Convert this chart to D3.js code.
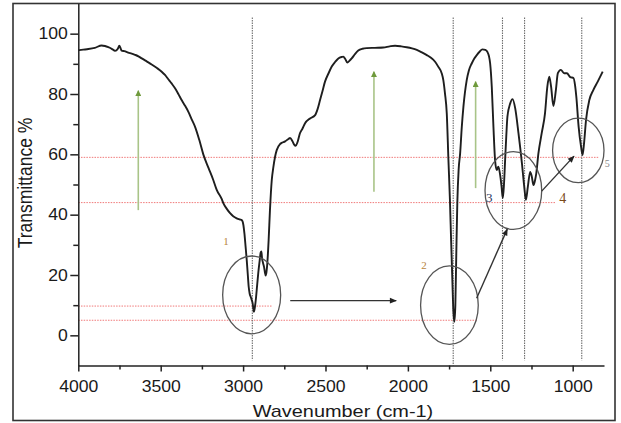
<!doctype html>
<html>
<head>
<meta charset='utf-8'>
<style>
body{margin:0;background:#fff;}
svg{display:block;font-family:'Liberation Sans',Arial,sans-serif;}
</style>
</head>
<body>
<div id='chart'></div>
<script src='https://cdn.jsdelivr.net/npm/d3@7/dist/d3.min.js'></script>
<script>

// spectrum (wavenumber cm-1, transmittance %)
const wavenumber = [4000,3970,3939,3900,3858,3838,3818,3795,3777,3760,3751,3737,3720,3697,3676,3656,3635,3615,3585,3555,3525,3494,3474,3454,3434,3413,3393,3373,3352,3332,3312,3292,3266,3241,3210,3181,3160,3130,3120,3100,3079,3060,3039,3020,3008,2998,2992,2985,2978,2972,2966,2960,2954,2948,2942,2937,2934,2928,2921,2915,2908,2900,2893,2889,2885,2879,2873,2868,2863,2858,2853,2845,2837,2826,2817,2806,2796,2776,2766,2745,2725,2715,2700,2690,2681,2670,2655,2640,2624,2594,2563,2548,2533,2518,2503,2482,2462,2442,2422,2400,2392,2380,2367,2355,2341,2320,2301,2275,2250,2200,2149,2110,2078,2040,2007,1975,1946,1915,1885,1860,1835,1815,1795,1785,1775,1764,1754,1745,1738,1730,1724,1718,1712,1706,1700,1692,1683,1673,1663,1643,1630,1612,1597,1582,1565,1548,1530,1518,1508,1501,1491,1481,1471,1461,1451,1440,1432,1424,1417,1410,1403,1396,1379,1365,1349,1329,1308,1294,1284,1272,1258,1248,1238,1228,1221,1208,1188,1168,1154,1142,1131,1117,1102,1090,1072,1052,1035,1015,995,986,978,964,949,940,931,919,899,875,848,818];
const transmittance = [94.5,94.7,94.9,95.3,96.1,95.9,95.5,94.9,94.3,95.0,96.0,94.4,94.2,93.7,93.4,93.0,92.5,91.8,90.8,89.8,88.7,87.4,86.3,84.9,83.5,81.9,80.0,78.0,76.1,74.1,71.6,69.2,64.8,59.9,55.5,51.5,48.2,45.2,43.8,42.0,40.5,39.5,38.8,38.4,38.2,36.5,33.8,29.5,25.0,20.5,16.1,13.8,12.8,11.8,10.6,8.5,7.8,9.5,12.8,16.5,20.6,24.5,27.5,27.8,25.5,24.0,22.7,21.0,19.8,21.0,23.9,31.6,41.5,51.5,55.5,59.2,61.4,63.4,63.8,64.3,65.1,65.4,64.3,63.2,62.8,64.0,67.0,68.5,70.3,71.9,73.0,75.0,78.0,81.0,84.1,86.8,89.1,90.6,91.8,92.3,92.4,91.6,90.4,91.0,91.8,93.3,94.4,95.0,95.2,95.3,95.4,95.8,96.0,95.8,95.5,95.1,94.6,93.8,92.9,92.0,90.7,89.0,86.9,84.6,80.2,73.5,58.1,45.0,32.0,18.0,8.0,4.5,10.0,28.0,44.0,55.0,60.3,69.0,75.8,84.6,87.8,90.2,91.8,92.9,94.0,94.8,94.6,94.0,92.5,90.2,82.4,69.2,58.1,54.8,55.9,53.1,49.5,45.5,50.0,58.1,66.0,72.5,76.9,78.3,75.3,67.0,57.0,49.3,44.9,49.3,54.2,52.6,49.8,51.5,53.7,60.3,67.0,73.6,82.4,85.7,82.4,76.0,81.3,86.9,88.0,86.9,86.9,85.6,85.3,83.0,79.1,69.2,62.5,59.8,63.7,71.4,78.0,81.3,84.1,87.4];

const xTicks = [4000,3500,3000,2500,2000,1500,1000];
const xMinor = [3750,3250,2750,2250,1750,1250];
const yTicks = [0,20,40,60,80,100];
const yMinor = [10,30,50,70,90];

// red dotted reference levels: [transmittance, wavenumber where the line stops]
const hLevels = [59, 44, 9.7, 5];
const hEnds = [840, 1101, 2827, 1583];

// grey dotted peak markers: [wavenumber, lowest transmittance reached]
const peakWn = [2944, 1725, 1426, 1292, 945];
const peakLow = [-8.3, -10, -8.3, -8.3, -8.3];
const peakTop = 105.4;

// circled regions: centre wn, centre T, half width (wn), half height (T)
const circleWn = [2948, 1748, 1360, 966];
const circleT = [13.4, 10.0, 48.0, 61.3];
const circleRx = [176, 175, 172, 156];
const circleRy = [12.9, 13.0, 12.9, 10.7];

// black arrows between circles: from -> to
const arrowFrom = [[2714, 11.5], [1583, 12.3], [1188, 47.8]];
const arrowTo = [[2071, 11.5], [1397, 35.2], [992, 59.4]];

// green upward arrows
const greenWn = [3636, 2206, 1589];
const greenLow = [41.5, 47.6, 48.8];
const greenHigh = [81.1, 87.4, 84.1];

// numbered labels
const labelText = ['1', '2', '3', '4', '5'];
const labelWn = [3104, 1903, 1506, 1060, 791];
const labelT = [31.3, 23.3, 45.6, 45.5, 56.8];
const labelColor = ['#b8843e', '#b8843e', '#2a3560', '#7a4a1a', '#888'];
const labelSize = [11, 11, 13, 14, 10];

const W = 621, H = 423;

const svg = d3.select('#chart').append('svg')
  .attr('width', W)
  .attr('height', H);

const x = d3.scaleLinear().domain([4000, 810]).range([78.3, 604]);
const y = d3.scaleLinear().domain([-10, 110]).range([365.5, 3.5]);

const defs = svg.append('defs');
defs.append('marker')
  .attr('id', 'headBlack')
  .attr('viewBox', '0 0 10 10')
  .attr('refX', 9).attr('refY', 5)
  .attr('markerWidth', 8).attr('markerHeight', 7)
  .attr('markerUnits', 'userSpaceOnUse')
  .attr('orient', 'auto')
  .append('path').attr('d', 'M0,1L10,5L0,9Z').attr('fill', '#222');
defs.append('marker')
  .attr('id', 'headGreen')
  .attr('viewBox', '0 0 10 10')
  .attr('refX', 9).attr('refY', 5)
  .attr('markerWidth', 7).attr('markerHeight', 6)
  .attr('markerUnits', 'userSpaceOnUse')
  .attr('orient', 'auto')
  .append('path').attr('d', 'M0,0L10,5L0,10Z').attr('fill', '#6f9a3c');

// outer frame
svg.append('rect')
  .attr('x', 13).attr('y', 3.5)
  .attr('width', 602).attr('height', 417)
  .attr('fill', 'none')
  .attr('stroke', '#333')
  .attr('stroke-width', 1.6);

// red dotted levels
svg.append('g').selectAll('line')
  .data(hLevels)
  .join('line')
  .attr('x1', x(4000))
  .attr('x2', (d, i) => x(hEnds[i]))
  .attr('y1', d => y(d))
  .attr('y2', d => y(d))
  .attr('stroke', '#f07a7a')
  .attr('stroke-width', 1)
  .attr('stroke-dasharray', '1.5,1.2');

// grey dotted peak lines
svg.append('g').selectAll('line')
  .data(peakWn)
  .join('line')
  .attr('x1', d => x(d))
  .attr('x2', d => x(d))
  .attr('y1', y(peakTop))
  .attr('y2', (d, i) => y(peakLow[i]))
  .attr('stroke', '#6e6e6e')
  .attr('stroke-width', 1.1)
  .attr('stroke-dasharray', '1.5,1');

// green arrows
svg.append('g').selectAll('line')
  .data(greenWn)
  .join('line')
  .attr('x1', d => x(d))
  .attr('x2', d => x(d))
  .attr('y1', (d, i) => y(greenLow[i]))
  .attr('y2', (d, i) => y(greenHigh[i]))
  .attr('stroke', '#a9c488')
  .attr('stroke-width', 1.6)
  .attr('marker-end', 'url(#headGreen)');

// spectrum
const spectrum = wavenumber.map((w, i) => [w, transmittance[i]]);
const line = d3.line()
  .x(d => x(d[0]))
  .y(d => y(d[1]))
  .curve(d3.curveMonotoneX);

svg.append('path')
  .datum(spectrum)
  .attr('d', line)
  .attr('fill', 'none')
  .attr('stroke', '#1e1e1e')
  .attr('stroke-width', 1.9)
  .attr('stroke-linejoin', 'round');

// circles
svg.append('g').selectAll('ellipse')
  .data(circleWn)
  .join('ellipse')
  .attr('cx', d => x(d))
  .attr('cy', (d, i) => y(circleT[i]))
  .attr('rx', (d, i) => Math.abs(x(d + circleRx[i]) - x(d)))
  .attr('ry', (d, i) => Math.abs(y(circleT[i] + circleRy[i]) - y(circleT[i])))
  .attr('fill', 'none')
  .attr('stroke', '#555')
  .attr('stroke-width', 1.3);

// black arrows
svg.append('g').selectAll('line')
  .data(arrowFrom)
  .join('line')
  .attr('x1', d => x(d[0]))
  .attr('y1', d => y(d[1]))
  .attr('x2', (d, i) => x(arrowTo[i][0]))
  .attr('y2', (d, i) => y(arrowTo[i][1]))
  .attr('stroke', '#333')
  .attr('stroke-width', 1.4)
  .attr('marker-end', 'url(#headBlack)');

// labels
svg.append('g').selectAll('text')
  .data(labelText)
  .join('text')
  .attr('x', (d, i) => x(labelWn[i]))
  .attr('y', (d, i) => y(labelT[i]))
  .attr('dy', '0.35em')
  .attr('text-anchor', 'middle')
  .style('font-family', "'Liberation Serif','DejaVu Serif',serif")
  .style('font-size', (d, i) => labelSize[i] + 'px')
  .attr('fill', (d, i) => labelColor[i])
  .text(d => d);

// axes
const xAxis = svg.append('g')
  .attr('transform', `translate(0, ${y(-10)})`)
  .call(d3.axisBottom(x).tickValues(xTicks).tickFormat(d3.format('d'))
    .tickSize(6).tickPadding(9).tickSizeOuter(0));
svg.append('g')
  .attr('transform', `translate(0, ${y(-10)})`)
  .call(d3.axisBottom(x).tickValues(xMinor).tickFormat('')
    .tickSize(4).tickSizeOuter(0))
  .select('.domain').remove();

const yAxis = svg.append('g')
  .attr('transform', `translate(${x(4000)}, 0)`)
  .call(d3.axisLeft(y).tickValues(yTicks).tickSize(8).tickPadding(3).tickSizeOuter(0));
svg.append('g')
  .attr('transform', `translate(${x(4000)}, 0)`)
  .call(d3.axisLeft(y).tickValues(yMinor).tickFormat('').tickSize(5).tickSizeOuter(0))
  .select('.domain').remove();

svg.selectAll('.domain, .tick line')
  .attr('stroke', '#222')
  .attr('stroke-width', 1.5);

xAxis.selectAll('text')
  .style('font-size', '16px')
  .style('font-family', "'Liberation Sans',Arial,sans-serif")
  .attr('fill', '#1a1a1a')
  .attr('transform', 'scale(1.1,1)');
yAxis.selectAll('text')
  .style('font-size', '16px')
  .style('font-family', "'Liberation Sans',Arial,sans-serif")
  .attr('fill', '#1a1a1a')
  .attr('x', -9.5)
  .attr('transform', 'scale(1.1,1)');

// titles
svg.append('text')
  .attr('transform', 'translate(343, 417) scale(1.17,1)')
  .attr('text-anchor', 'middle')
  .style('font-size', '17px')
  .attr('fill', '#1a1a1a')
  .text('Wavenumber (cm-1)');
svg.append('text')
  .attr('transform', 'translate(32, 183) scale(1.17,1) rotate(-90)')
  .attr('text-anchor', 'middle')
  .style('font-size', '17.5px')
  .attr('fill', '#1a1a1a')
  .text('Transmittance %');

</script>
</body>
</html>
